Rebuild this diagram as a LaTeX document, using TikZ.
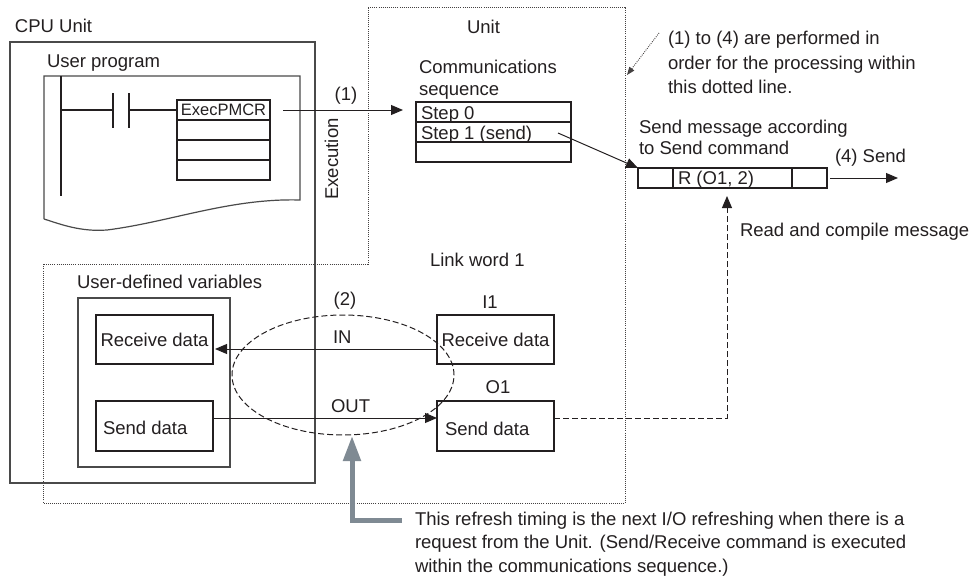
\documentclass[tikz,border=0pt]{standalone}
\usepackage{fontspec}
\setmainfont{Liberation Sans}
\usetikzlibrary{arrows.meta,shapes.geometric}
\definecolor{ink}{HTML}{231F20}
\definecolor{boxgray}{HTML}{4A4A4A}
\definecolor{arrowgray}{HTML}{7F8A93}
\begin{document}
\begin{tikzpicture}[x=1pt,y=-1pt,
  font=\fontsize{18.5}{22}\selectfont, text=ink,
  every node/.style={inner sep=0pt, outer sep=0pt},
  box/.style={draw=ink, line width=1.1pt, rectangle, anchor=north west},
  graybox/.style={draw=boxgray, line width=1.4pt, rectangle, anchor=north west},
  cell/.style={draw=ink, line width=1.4pt, rectangle, anchor=north west},
  lbl/.style={anchor=base west},
  clbl/.style={anchor=base},
  wire/.style={draw=ink, line width=1.1pt},
  arr/.style={draw=ink, line width=1pt, -{Triangle[length=12pt,width=10pt]}},
  dotline/.style={draw=ink!85, line width=0.9pt, dash pattern=on 0.9pt off 1.2pt},
  dashline/.style={draw=ink, line width=1pt, dash pattern=on 6pt off 3pt},
  refresh/.style={draw=arrowgray, line width=5pt, -{Triangle[length=25pt,width=17pt]}},
]
\useasboundingbox (0,0) rectangle (970,581);

% dotted processing region
\draw[dotline] (368,7) -- (625,7) -- (625,503) -- (43,503) -- (43,264) -- (368,264) -- cycle;

% CPU unit
\node[graybox, minimum width=305pt, minimum height=441pt] (cpu) at (10,42) {};
\node[lbl] (cpulbl) at (15,32) {CPU Unit};

% user program sheet
\node[lbl] (uplbl) at (47,67) {User program};
\draw[draw=boxgray, line width=1.2pt] (44,219) -- (44,76) -- (300,76) -- (300,200)
  .. controls (230,198) and (170,222) .. (107,230)
  .. controls (80,232) and (60,224) .. (44,219);

% ladder
\draw[wire] (61,76) -- (61,196);
\draw[wire] (61,110) -- (113,110);
\draw[wire] (113,93) -- (113,128);
\draw[wire] (129,93) -- (129,128);
\node[cell, minimum width=93pt, minimum height=20pt, font=\fontsize{16.5}{18}\selectfont] (execrow) at (177,100) {ExecPMCR};
\node[cell, minimum width=93pt, minimum height=20pt] (er2) at (177,120) {};
\node[cell, minimum width=93pt, minimum height=20pt] (er3) at (177,140) {};
\node[cell, minimum width=93pt, minimum height=20pt] (er4) at (177,160) {};
\draw[wire] (129,110) -- (execrow.west);

% communications sequence
\node[lbl] (unitlbl) at (467,33) {Unit};
\node[lbl] (comlbl) at (419,73) {Communications};
\node[lbl] (seqlbl) at (419,95) {sequence};
\node[cell, minimum width=155pt, minimum height=20pt] (step0) at (416,102) {};
\node[cell, minimum width=155pt, minimum height=20pt] (step1) at (416,122) {};
\node[cell, minimum width=155pt, minimum height=20pt] (step2) at (416,142) {};
\node[lbl] (s0lbl) at (421,119) {Step 0};
\node[lbl] (s1lbl) at (421,139) {Step 1 (send)};

% (1) execution arrow
\draw[arr] ([xshift=13pt]execrow.east) -- ([xshift=-13pt]execrow.east -| step0.west);
\node[clbl] (one) at (346,100) {(1)};
\node[rotate=90] (execlbl) at (331.5,159) {Execution};

% note
\node[lbl] (n1) at (668,44) {(1) to (4) are performed in};
\node[lbl] (n2) at (668,69) {order for the processing within};
\node[lbl] (n3) at (668,93) {this dotted line.};
\coordinate (na) at (659,33);
\coordinate (nb) at (627,75);
\draw[dotline, -{Triangle[length=8pt,width=6pt]}] (na) -- (nb);

% send message
\node[lbl] (sm1) at (639,133) {Send message according};
\node[lbl] (sm2) at (639,154) {to Send command};
\node[box, minimum width=189pt, minimum height=20pt] (msg) at (638,168) {};
\draw[wire] (673,168) -- (673,188);
\draw[wire] (792,168) -- (792,188);
\node[lbl] (rlbl) at (678,184) {R (O1, 2)};
\coordinate (s1src) at (558,133);
\draw[arr] (s1src) -- (msg.north west);

% (4) send
\node[lbl] (sendlbl) at (835,162) {(4) Send};
\coordinate (sendtip) at (898,178);
\draw[arr] ([xshift=3pt]msg.east) -- (sendtip);

% read and compile
\node[lbl] (rclbl) at (740,236) {Read and compile message};
\node[lbl] (lwlbl) at (430,266) {Link word 1};

% user-defined variables
\node[lbl] (udlbl) at (77,288) {User-defined variables};
\node[graybox, minimum width=152pt, minimum height=169pt] (vars) at (78,298) {};
\node[box, minimum width=117pt, minimum height=49pt] (recv) at (96,315) {Receive data};
\node[box, minimum width=117pt, minimum height=50pt] (sendL) at (96,401) {};
\node[lbl] (sendLlbl) at (103,434) {Send data};

% link word boxes
\node[clbl] (i1lbl) at (490,308) {I1};
\node[box, minimum width=117pt, minimum height=49pt] (i1) at (437,315) {Receive data};
\node[clbl] (o1lbl) at (498,393) {O1};
\node[box, minimum width=117pt, minimum height=50pt] (o1) at (437,401) {};
\node[lbl] (o1txt) at (445,435) {Send data};

% refresh ellipse
\node[draw=ink, line width=1pt, dash pattern=on 6pt off 3pt, ellipse, minimum width=222pt, minimum height=120pt] (ell) at (343,375) {};
\node[clbl] (two) at (345,305) {(2)};
\node[lbl] (inlbl) at (333,343) {IN};
\node[lbl] (outlbl) at (331,412) {OUT};
\draw[arr] ([yshift=-9.5pt]i1.west) -- ([yshift=-9.5pt,xshift=2pt]recv.east);
\draw[arr] ([yshift=8pt]sendL.east) -- ([yshift=8pt]o1.west);

% read back dashed
\coordinate (rdtip) at (727,196);
\draw[dashline, -{Triangle[length=12pt,width=10pt]}] ([yshift=8pt]o1.east) -| (rdtip);

% refresh timing arrow
\coordinate (g0) at (402,520);
\coordinate (gtip) at (352,436);
\draw[refresh] (g0) -| (gtip);
\node[lbl] (b1) at (415,525) {This refresh timing is the next I/O refreshing when there is a};
\node[lbl] (b2) at (415,548) {request from the Unit. (Send/Receive command is executed};
\node[lbl] (b3) at (415,572) {within the communications sequence.)};
\end{tikzpicture}
\end{document}
